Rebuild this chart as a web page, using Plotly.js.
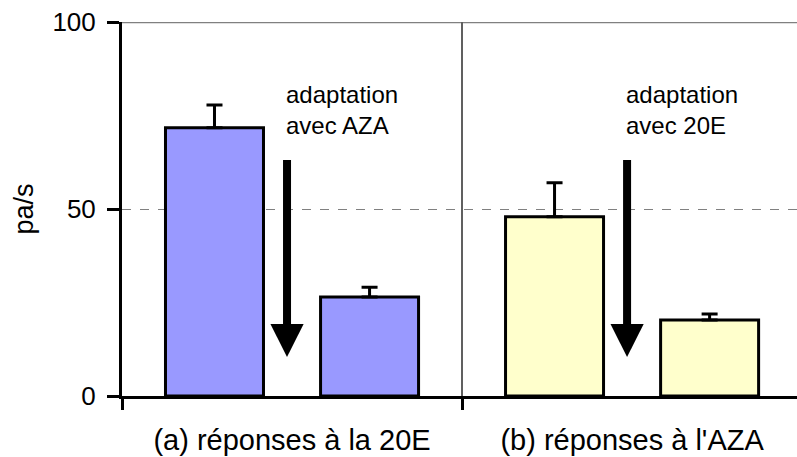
<!DOCTYPE html>
<html>
<head>
<meta charset="utf-8">
<script src="https://cdn.plot.ly/plotly-3.0.1.min.js"></script>
<style>html,body{margin:0;padding:0;background:#fff;overflow:hidden}</style>
</head>
<body>
<div id="chart" style="width:797px;height:457px"></div>
<script>
// Data
const groups = ["(a) réponses à la 20E", "(b) réponses à l'AZA"];
const beforeValues = [71.7, 47.9];
const beforeErrors = [6.1, 9.1];
const afterValues = [26.5, 20.3];
const afterErrors = [2.6, 1.6];
const groupColors = ["#9999FF", "#FFFFCC"];
const arrowLabels = ["adaptation<br>avec AZA", "adaptation<br>avec 20E"];
const arrowTop = [63.5, 63.5];
const arrowBottom = [10.4, 10.4];
const yTicks = [0, 50, 100];

const FONT = "Liberation Sans, Arial, sans-serif";

const traces = [
  {
    type: "bar", x: groups, y: beforeValues, name: "avant",
    marker: {color: groupColors, line: {color: "#000", width: 3}},
    error_y: {type: "data", array: beforeErrors, arrayminus: [0, 0], symmetric: false,
              color: "#000", thickness: 3, width: 8},
    hoverinfo: "skip"
  },
  {
    type: "bar", x: groups, y: afterValues, name: "après",
    marker: {color: groupColors, line: {color: "#000", width: 3}},
    error_y: {type: "data", array: afterErrors, arrayminus: [0, 0], symmetric: false,
              color: "#000", thickness: 3, width: 8},
    hoverinfo: "skip"
  }
];

const annotations = [];
groups.forEach((g, i) => {
  annotations.push({
    x: g, y: arrowBottom[i], xref: "x", yref: "y",
    ax: 0, ay: arrowTop[i], axref: "pixel", ayref: "y",
    showarrow: true, arrowhead: 2, arrowwidth: 8, arrowsize: 0.83, arrowcolor: "#000",
    text: "", xshift: -5
  });
  annotations.push({
    x: g, y: 76.5, xref: "x", yref: "y", xanchor: "left", yanchor: "middle",
    xshift: -8, align: "left", showarrow: false, text: arrowLabels[i],
    font: {family: FONT, size: 24, color: "#000"}
  });
});

const layout = {
  width: 797, height: 457,
  margin: {l: 122, r: 0, t: 22, b: 61},
  paper_bgcolor: "#fff", plot_bgcolor: "#fff",
  showlegend: false,
  barmode: "group", bargap: 0.088, bargroupgap: 0.368,
  font: {family: FONT, color: "#000"},
  xaxis: {
    type: "category", range: [-0.5, 1.485], tickson: "boundaries",
    ticks: "outside", ticklen: 11, tickwidth: 3, tickcolor: "#000",
    showline: true, linewidth: 3, linecolor: "#000",
    showgrid: true, gridcolor: "#606060", gridwidth: 1.5,
    tickfont: {family: FONT, size: 29, color: "#000"},
    ticklabelstandoff: 16,
    fixedrange: true
  },
  yaxis: {
    range: [0, 100], tickvals: yTicks,
    ticks: "outside", ticklen: 12, tickwidth: 3, tickcolor: "#000",
    showline: true, linewidth: 3, linecolor: "#000",
    showgrid: true, gridcolor: "#808080", gridwidth: 1, griddash: "dash",
    zeroline: false,
    tickfont: {family: FONT, size: 26, color: "#000"},
    ticklabelstandoff: 6,
    title: {text: "pa/s", font: {family: FONT, size: 27, color: "#000"}, standoff: 11},
    fixedrange: true
  },
  shapes: [
    {type: "line", xref: "paper", yref: "y", x0: 0, x1: 1, y0: 100, y1: 100,
     line: {color: "#808080", width: 2.5}, layer: "below"}
  ],
  annotations: annotations
};

Plotly.newPlot("chart", traces, layout, {displayModeBar: false, staticPlot: true});
</script>
</body>
</html>
